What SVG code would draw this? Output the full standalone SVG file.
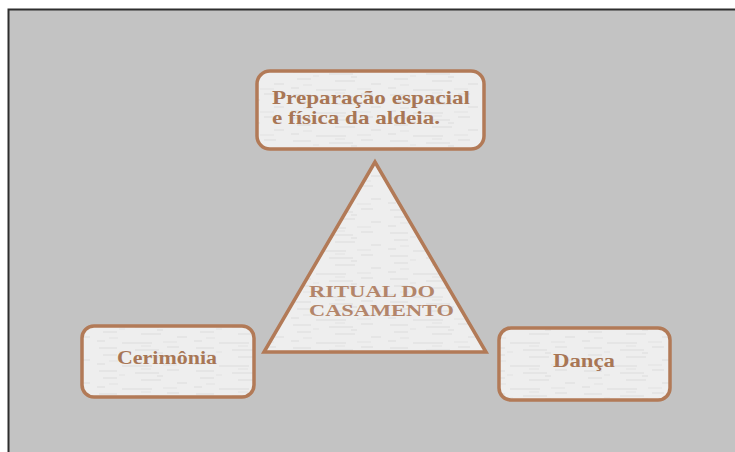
<svg xmlns="http://www.w3.org/2000/svg" width="735" height="452" viewBox="0 0 735 452">
<defs>
<pattern id="tex" width="97" height="23" patternUnits="userSpaceOnUse">
<rect width="97" height="23" fill="#eeeeee"/>
<path d="M2 3h18M38 5h24M70 2h12M6 10h14M44 12h20M80 15h10M0 19h8M25 21h30M60 8h6" stroke="#dcdcdc" stroke-width="1"/>
<path d="M22 7h6M44 1h10M12 16h9M66 20h14" stroke="#e3e3e3" stroke-width="1"/>
</pattern>
<style>
.box{fill:url(#tex);stroke:#b27a57;stroke-width:3.5}
.lbl{font-family:"Liberation Serif","Times New Roman",serif;font-weight:bold;fill:#a87655}
.ctr{fill:#b3856a}
</style>
</defs>
<rect width="735" height="452" fill="#ffffff"/>
<rect x="8" y="9" width="727" height="443" fill="#c3c3c3"/>
<path d="M8.5 452V9.5H735" fill="none" stroke="#2e2e2e" stroke-width="2"/>
<g id="connectors"></g>
<g id="node-top">
<rect class="box" x="257" y="71" width="227" height="78" rx="13"/>
<text class="lbl" x="272" y="104" font-size="19.5" textLength="198" lengthAdjust="spacingAndGlyphs">Preparação espacial</text>
<text class="lbl" x="272" y="124" font-size="19.5" textLength="168" lengthAdjust="spacingAndGlyphs">e física da aldeia.</text>
</g>
<g id="node-center">
<polygon class="box" points="375,162 264,352 486,352"/>
<text class="lbl ctr" x="309" y="297" font-size="17.5" textLength="126" lengthAdjust="spacingAndGlyphs">RITUAL DO</text>
<text class="lbl ctr" x="309" y="316" font-size="17.5" textLength="145" lengthAdjust="spacingAndGlyphs">CASAMENTO</text>
</g>
<g id="node-left">
<rect class="box" x="82" y="326" width="172" height="71" rx="12"/>
<text class="lbl" x="117" y="364" font-size="18.5" textLength="100" lengthAdjust="spacingAndGlyphs">Cerimônia</text>
</g>
<g id="node-right">
<rect class="box" x="499" y="328" width="171" height="72" rx="12"/>
<text class="lbl" x="553" y="367" font-size="18" textLength="62" lengthAdjust="spacingAndGlyphs">Dança</text>
</g>
</svg>
